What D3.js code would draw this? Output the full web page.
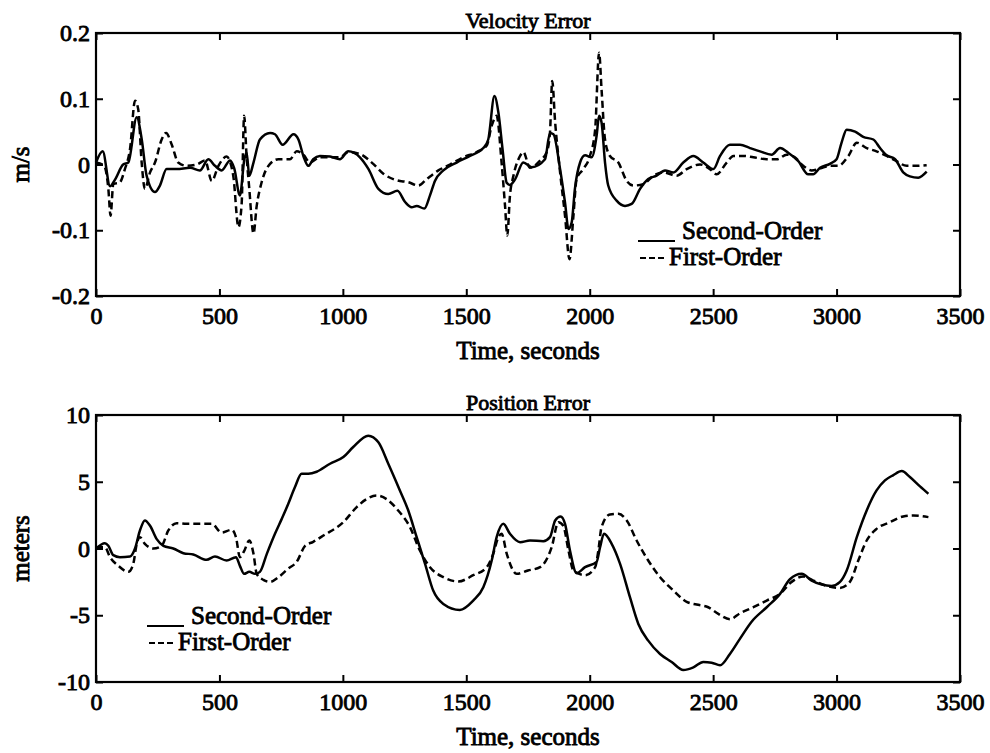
<!DOCTYPE html>
<html>
<head>
<meta charset="utf-8">
<script src="https://cdn.jsdelivr.net/npm/d3@7"></script>
<style>
  body { margin: 0; background: #fff; }
  svg text { font-family: "Liberation Serif", "Times New Roman", serif; fill: #000; stroke: #000; stroke-width: 0.85px; }
</style>
</head>
<body>
<div id="chart"></div>
<script>
// time axis ticks shared by both panels
const time_ticks = [0, 500, 1000, 1500, 2000, 2500, 3000, 3500]

// velocity error (m/s)
const vel_ticks = [-0.2, -0.1, 0, 0.1, 0.2]
const vel_second_t = [0, 27, 57, 77, 110, 131, 165, 185, 205, 239, 259, 286, 327, 381, 421, 455, 482, 509, 543, 560,
    583, 601, 610, 621, 638, 664, 705, 725, 756, 800, 820, 840, 860, 880, 907, 948, 988, 1022, 1069, 1104,
    1144, 1184, 1221, 1252, 1279, 1299, 1330, 1353, 1373, 1407, 1461, 1515, 1569, 1589, 1614, 1630, 1647, 1664, 1677, 1697,
    1731, 1765, 1819, 1839, 1853, 1880, 1900, 1914, 1927, 1940, 1961, 1981, 2008, 2028, 2038, 2048, 2062, 2075, 2109, 2143,
    2170, 2204, 2237, 2271, 2305, 2339, 2379, 2420, 2460, 2501, 2528, 2568, 2609, 2649, 2690, 2737, 2771, 2804, 2845, 2885,
    2905, 2933, 2973, 3000, 3020, 3041, 3075, 3108, 3149, 3176, 3203, 3237, 3270, 3297, 3331, 3365]
const vel_second = [0.003, 0.02, -0.033, -0.023, 0, 0.003, 0.072, 0.039, -0.017, -0.042, -0.032, -0.007, -0.007, -0.005, -0.009, 0.008, -0.002, -0.009, 0.006, -0.006,
    -0.047, 0.008, 0.018, -0.017, 0.003, 0.038, 0.048, 0.046, 0.03, 0.046, 0.038, 0.013, -0.002, 0.008, 0.013, 0.012, 0.008, 0.02, 0.011, -0.007,
    -0.037, -0.045, -0.04, -0.057, -0.065, -0.063, -0.067, -0.047, -0.025, -0.009, 0.003, 0.013, 0.025, 0.038, 0.104, 0.079, 0.023, -0.028, -0.031, -0.023,
    0.003, -0.004, 0.008, 0.048, 0.046, -0.007, -0.058, -0.098, -0.088, -0.037, 0.003, 0.014, 0.011, 0.044, 0.074, 0.064, 0.003, -0.032, -0.055, -0.063,
    -0.06, -0.037, -0.022, -0.017, -0.009, -0.012, 0.003, 0.013, 0.003, -0.007, 0.013, 0.03, 0.03, 0.025, 0.02, 0.015, 0.025, 0.018, 0.005, -0.015,
    -0.015, -0.005, 0.001, 0.008, 0.033, 0.053, 0.05, 0.042, 0.038, 0.025, 0.014, 0.008, -0.012, -0.018, -0.02, -0.011]
const vel_first_t = [0, 33, 50, 59, 70, 97, 117, 138, 158, 171, 185, 198, 219, 239, 266, 284, 307, 333, 367, 408,
    442, 469, 496, 529, 556, 577, 590, 600, 610, 621, 638, 651, 671, 705, 739, 786, 813, 840, 867, 907,
    988, 1022, 1069, 1123, 1164, 1218, 1265, 1306, 1340, 1387, 1434, 1488, 1542, 1583, 1603, 1623, 1643, 1657, 1666, 1677,
    1691, 1718, 1731, 1758, 1799, 1826, 1839, 1848, 1860, 1880, 1900, 1918, 1934, 1947, 1974, 2001, 2022, 2038, 2048, 2062,
    2082, 2116, 2150, 2177, 2217, 2258, 2298, 2352, 2393, 2447, 2487, 2514, 2555, 2582, 2622, 2663, 2717, 2758, 2798, 2831,
    2865, 2899, 2933, 2973, 3007, 3048, 3082, 3122, 3162, 3203, 3243, 3284, 3324, 3365]
const vel_first = [0.003, -0.002, -0.037, -0.078, -0.03, -0.027, -0.007, 0.024, 0.097, 0.084, 0.003, -0.037, -0.012, 0.003, 0.038, 0.048, 0.03, 0.003, -0.002, 0,
    0.006, -0.025, -0.002, 0.012, -0.017, -0.095, -0.06, 0.074, 0.013, -0.037, -0.105, -0.063, -0.027, 0.001, 0.008, 0.008, 0.02, 0.015, 0.003, 0.011,
    0.011, 0.019, 0.016, 0.001, -0.014, -0.024, -0.027, -0.032, -0.022, -0.009, 0, 0.011, 0.019, 0.029, 0.059, 0.074, 0.003, -0.063, -0.108, -0.047,
    -0.017, 0.013, 0.019, -0.005, 0.006, 0.019, 0.048, 0.127, 0.064, -0.012, -0.078, -0.144, -0.078, -0.022, -0.007, 0.013, 0.053, 0.17, 0.114, 0.038,
    0.013, 0.003, -0.025, -0.032, -0.03, -0.017, -0.012, -0.017, -0.007, 0, -0.007, -0.015, 0.003, 0.013, 0.013, 0.011, 0.008, 0.008, 0.015, 0.011,
    -0.002, -0.009, -0.006, -0.002, -0.002, 0.013, 0.033, 0.025, 0.02, 0.013, 0.005, -0.002, -0.002, -0.001]

// position error (meters)
const pos_ticks = [-10, -5, 0, 5, 10]
const pos_second_t = [0, 36, 50, 70, 97, 138, 158, 178, 198, 219, 246, 273, 313, 354, 394, 448, 482, 529, 567, 583,
    600, 621, 644, 664, 692, 725, 752, 779, 806, 833, 860, 894, 948, 1002, 1042, 1103, 1144, 1184, 1231, 1265,
    1299, 1333, 1366, 1407, 1474, 1528, 1569, 1603, 1623, 1650, 1677, 1718, 1758, 1812, 1839, 1860, 1882, 1900, 1920, 1947,
    1981, 2028, 2042, 2058, 2089, 2123, 2163, 2197, 2237, 2285, 2332, 2379, 2420, 2460, 2494, 2528, 2568, 2609, 2655, 2717,
    2771, 2811, 2859, 2899, 2940, 2980, 3014, 3041, 3082, 3122, 3162, 3196, 3230, 3264, 3297, 3338, 3372]
const pos_second = [0, 0.4, 0.2, -0.5, -0.65, -0.6, 0, 1.35, 2.1, 1.7, 0.7, 0.2, 0, -0.35, -0.45, -0.85, -0.6, -0.9, -0.65, -1.3,
    -1.9, -1.75, -1.9, -1.75, -0.4, 1.1, 2.2, 3.35, 4.6, 5.6, 5.6, 5.75, 6.35, 6.85, 7.6, 8.45, 7.95, 6.35, 4.35, 2.85,
    0.85, -1.15, -3.15, -4.15, -4.6, -3.9, -2.9, -0.9, 0.85, 1.85, 1.1, 0.47, 0.6, 0.55, 0.85, 2.1, 2.4, 1.85, -0.15, -1.85,
    -1.4, -1.0, 0.1, 1.1, 0.35, -1.15, -3.65, -5.65, -6.9, -7.9, -8.5, -9.1, -8.9, -8.5, -8.55, -8.75, -7.9, -6.75, -5.5, -4.4,
    -3.4, -2.3, -1.9, -2.4, -2.7, -2.8, -2.5, -1.65, 0.85, 2.85, 4.35, 5.1, 5.5, 5.8, 5.35, 4.65, 4.1]
const pos_first_t = [0, 36, 57, 91, 131, 151, 165, 178, 198, 232, 266, 293, 327, 367, 421, 469, 509, 550, 567, 583,
    600, 621, 638, 651, 678, 705, 739, 779, 813, 847, 880, 921, 1002, 1056, 1096, 1137, 1177, 1224, 1272, 1312,
    1353, 1407, 1468, 1528, 1583, 1609, 1630, 1643, 1664, 1704, 1750, 1799, 1846, 1873, 1893, 1914, 1934, 1981, 2022, 2035,
    2048, 2082, 2116, 2150, 2190, 2237, 2285, 2339, 2393, 2433, 2480, 2521, 2568, 2609, 2663, 2717, 2771, 2818, 2865, 2906,
    2960, 3014, 3054, 3088, 3122, 3162, 3216, 3270, 3311, 3372]
const pos_first = [0.1, 0.1, -0.65, -1.3, -1.75, -1.15, 0.35, 0.85, 0.35, 0, 0.2, 1.35, 1.9, 1.85, 1.85, 1.85, 1.2, 1.4, 0.85, -0.65,
    -0.2, 0.6, -0.4, -1.9, -2.35, -2.5, -2.15, -1.5, -1.0, 0.2, 0.5, 0.97, 1.97, 3.1, 3.7, 3.97, 3.7, 2.85, 1.6, -0.15,
    -1.4, -2.15, -2.47, -2.0, -1.4, -0.4, 0.85, 1.1, -0.4, -1.9, -1.65, -1.4, 0.1, 1.97, 1.7, -0.15, -1.65, -2.0, -1.4, -0.15,
    1.6, 2.55, 2.6, 2.1, 0.6, -0.9, -2.15, -3.15, -4.0, -4.2, -4.4, -4.9, -5.3, -4.85, -4.4, -3.9, -3.4, -2.5, -2.1, -2.4,
    -2.8, -2.95, -2.5, -0.9, 0.6, 1.47, 1.97, 2.4, 2.47, 2.35]

const series_names = ['Second-Order', 'First-Order']

const zip = (ts, vs) => ts.map((t, i) => ({ t: t, v: vs[i] }))
const fmt_tick = d => d === 0 ? '0' : String(d).replace('\u2212', '-')

const make_panel = (svg, cfg) => {

    const { left, right, top, bottom } = cfg.box
    const x = d3.scaleLinear().domain([0, 3500]).range([left, right])
    const y = d3.scaleLinear().domain(cfg.domain).range([bottom, top])

    const g = svg.append('g')

    // inward ticks on all four sides
    g.append('g')
        .attr('transform', `translate(0,${bottom})`)
        .call(d3.axisBottom(x).tickValues(time_ticks).tickSize(-7).tickPadding(11).tickFormat(d => d))
    g.append('g')
        .attr('transform', `translate(0,${top})`)
        .call(d3.axisTop(x).tickValues(time_ticks).tickSize(-7).tickFormat(''))
    g.append('g')
        .attr('transform', `translate(${left},0)`)
        .call(d3.axisLeft(y).tickValues(cfg.ticks).tickSize(-7).tickPadding(6).tickFormat(fmt_tick))
    g.append('g')
        .attr('transform', `translate(${right},0)`)
        .call(d3.axisRight(y).tickValues(cfg.ticks).tickSize(-7).tickFormat(''))

    g.selectAll('.domain').remove()
    g.selectAll('.tick line').attr('stroke', '#000').attr('stroke-width', 2)
    g.selectAll('.tick text').attr('font-size', 24).attr('font-family', null)

    g.append('rect')
        .attr('x', left)
        .attr('y', top)
        .attr('width', right - left)
        .attr('height', bottom - top)
        .attr('fill', 'none')
        .attr('stroke', '#000')
        .attr('stroke-width', 2.2)

    const line = d3.line()
        .x(d => x(d.t))
        .y(d => y(d.v))
        .curve(d3.curveMonotoneX)

    g.append('path')
        .datum(zip(cfg.second_t, cfg.second))
        .attr('fill', 'none')
        .attr('stroke', '#000')
        .attr('stroke-width', 2.5)
        .attr('stroke-linejoin', 'round')
        .attr('d', line)
    g.append('path')
        .datum(zip(cfg.first_t, cfg.first))
        .attr('fill', 'none')
        .attr('stroke', '#000')
        .attr('stroke-width', 2.5)
        .attr('stroke-dasharray', '7,4')
        .attr('d', line)

    // title sits right on the top border
    g.append('text')
        .attr('x', (left + right) / 2)
        .attr('y', top - 5)
        .attr('text-anchor', 'middle')
        .attr('font-size', 22)
        .text(cfg.title)

    g.append('text')
        .attr('x', (left + right) / 2)
        .attr('y', bottom + 63)
        .attr('text-anchor', 'middle')
        .attr('font-size', 25)
        .text('Time, seconds')

    g.append('text')
        .attr('transform', `translate(29,${(top + bottom) / 2}) rotate(-90)`)
        .attr('text-anchor', 'middle')
        .attr('font-size', 25)
        .text(cfg.ylabel)

    // legend: a short line sample followed by the name
    const lg = cfg.legend
    g.append('line')
        .attr('x1', lg.x).attr('x2', lg.x + 37)
        .attr('y1', lg.y + 2).attr('y2', lg.y + 2)
        .attr('stroke', '#000').attr('stroke-width', 2)
    g.append('text')
        .attr('x', lg.x + 44)
        .attr('y', lg.y)
        .attr('font-size', 25)
        .text(series_names[0])
    g.append('line')
        .attr('x1', lg.x + 2).attr('x2', lg.x + 26)
        .attr('y1', lg.y + 19).attr('y2', lg.y + 19)
        .attr('stroke', '#000').attr('stroke-width', 2)
        .attr('stroke-dasharray', '6,3')
    g.append('text')
        .attr('x', lg.x + 31)
        .attr('y', lg.y + 26)
        .attr('font-size', 25)
        .text(series_names[1])
}

const svg = d3.select('#chart')
    .append('svg')
    .attr('width', 990)
    .attr('height', 753)

make_panel(svg, {
    box: { left: 96, right: 960, top: 33, bottom: 296 },
    domain: [-0.2, 0.2],
    ticks: vel_ticks,
    second_t: vel_second_t, second: vel_second,
    first_t: vel_first_t, first: vel_first,
    title: 'Velocity Error',
    ylabel: 'm/s',
    legend: { x: 638, y: 239 }
})

make_panel(svg, {
    box: { left: 96, right: 960, top: 415, bottom: 682 },
    domain: [-10, 10],
    ticks: pos_ticks,
    second_t: pos_second_t, second: pos_second,
    first_t: pos_first_t, first: pos_first,
    title: 'Position Error',
    ylabel: 'meters',
    legend: { x: 147, y: 624 }
})
</script>
</body>
</html>
